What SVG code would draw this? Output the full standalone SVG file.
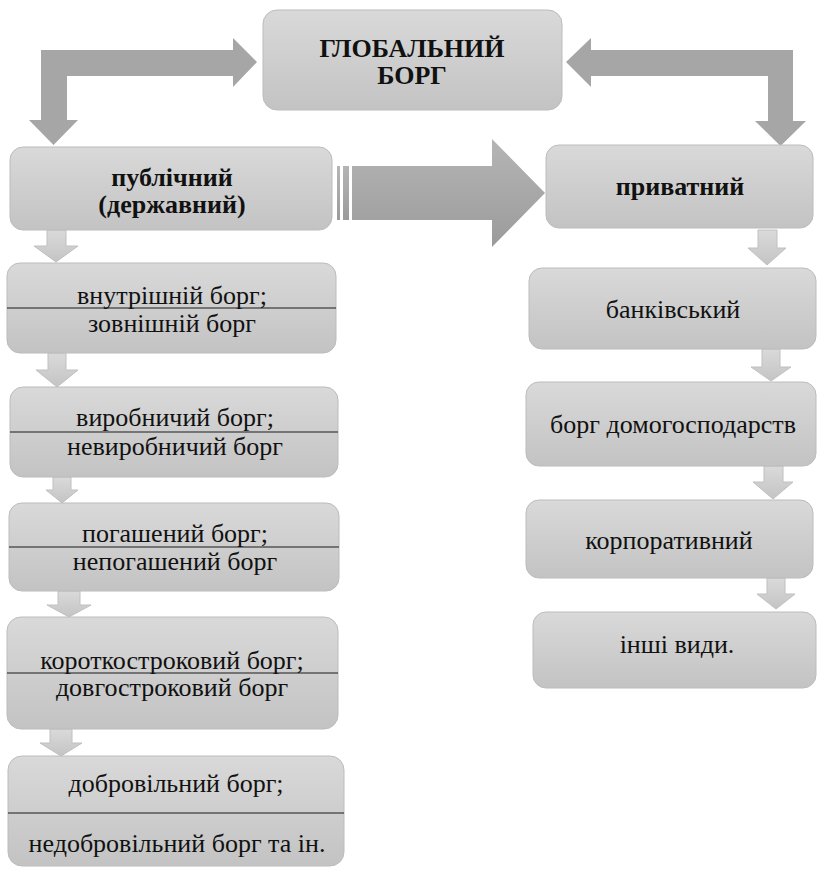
<svg xmlns="http://www.w3.org/2000/svg" width="817" height="869" viewBox="0 0 817 869">
<defs>
<linearGradient id="gBox" x1="0" y1="0" x2="0" y2="1">
<stop offset="0" stop-color="#d9d9d9"/>
<stop offset="1" stop-color="#c3c3c3"/>
</linearGradient>
<linearGradient id="gSmall" x1="0" y1="0" x2="0" y2="1">
<stop offset="0" stop-color="#dadada"/>
<stop offset="1" stop-color="#c4c4c4"/>
</linearGradient>
<linearGradient id="gBig" x1="0" y1="0" x2="0" y2="1">
<stop offset="0" stop-color="#b5b5b5"/>
<stop offset="1" stop-color="#9b9b9b"/>
</linearGradient>
<style>
.box{fill:url(#gBox);stroke:#bcbcbc;stroke-width:1}
.sep{stroke:#1a1a1a;stroke-width:1.2}
.bent{fill:#a6a6a6}
.small{fill:url(#gSmall);stroke:#c0c0c0;stroke-width:1}
.big{fill:url(#gBig)}
text{fill:#111;text-anchor:middle;font-family:'Liberation Serif','Times New Roman',serif}
.b{font-weight:bold;font-size:26px}
.r{font-size:26px}
</style>
</defs>
<g id="connectors">
<path class="bent" d="M41,50 L233,50 L233,38 L257,62 L233,87 L233,76 L67,76 L67,120 L78,120 L53.5,145 L29,120 L41,120 Z"/>
<path class="bent" d="M793,50 L591,50 L591,38 L566,62 L591,87 L591,76 L768,76 L768,121 L755,121 L780.5,146 L806,121 L793,121 Z"/>
<rect class="big" x="337" y="166" width="3" height="54"/>
<rect class="big" x="343" y="166" width="6" height="54"/>
<path class="big" d="M352,166 L492,166 L492,139 L545,193 L492,247 L492,220 L352,220 Z"/>
<path class="small" d="M47,230 L66,230 L66,246 L78,246 L56,262 L34,246 L47,246 Z"/>
<path class="small" d="M48,353 L66,353 L66,370 L78,370 L57,387 L36,370 L48,370 Z"/>
<path class="small" d="M53,477 L71,477 L71,490 L78,490 L62,503 L46,490 L53,490 Z"/>
<path class="small" d="M58,591 L80,591 L80,605 L91,605 L69,617 L47,605 L58,605 Z"/>
<path class="small" d="M50,729 L72,729 L72,743 L82,743 L61,756 L40,743 L50,743 Z"/>
<path class="small" d="M758,230 L777,230 L777,248 L786,248 L767,265 L748,248 L758,248 Z"/>
<path class="small" d="M762,349 L780,349 L780,367 L791,367 L771,381 L751,367 L762,367 Z"/>
<path class="small" d="M764,466 L783,466 L783,482 L793,482 L773,499 L753,482 L764,482 Z"/>
<path class="small" d="M767,578 L785,578 L785,594 L795,594 L776,609 L757,594 L767,594 Z"/>
</g>
<g id="global">
<rect class="box" x="263" y="10" width="299" height="100" rx="14"/>
<text class="b" x="412" y="57">ГЛОБАЛЬНИЙ</text>
<text class="b" x="412" y="84">БОРГ</text>
</g>
<g id="public">
<rect class="box" x="10" y="147" width="322" height="83" rx="13"/>
<text class="b" x="172" y="186">публічний</text>
<text class="b" x="172" y="213">(державний)</text>
</g>
<g id="private">
<rect class="box" x="546" y="145" width="267" height="83" rx="13"/>
<text class="b" x="680" y="195">приватний</text>
</g>
<g id="p1">
<rect class="box" x="7" y="263" width="329" height="90" rx="13"/>
<line class="sep" x1="7" y1="308" x2="336" y2="308"/>
<text class="r" x="172" y="304">внутрішній борг;</text>
<text class="r" x="172" y="332">зовнішній борг</text>
</g>
<g id="p2">
<rect class="box" x="10" y="387" width="328" height="90" rx="13"/>
<line class="sep" x1="10" y1="432" x2="338" y2="432"/>
<text class="r" x="175" y="426">виробничий борг;</text>
<text class="r" x="175" y="455">невиробничий борг</text>
</g>
<g id="p3">
<rect class="box" x="9" y="503" width="330" height="88" rx="13"/>
<line class="sep" x1="9" y1="547" x2="339" y2="547"/>
<text class="r" x="175" y="542">погашений борг;</text>
<text class="r" x="175" y="570">непогашений борг</text>
</g>
<g id="p4">
<rect class="box" x="7" y="617" width="331" height="112" rx="14"/>
<line class="sep" x1="7" y1="673" x2="338" y2="673"/>
<text class="r" x="172" y="669">короткостроковий борг;</text>
<text class="r" x="172" y="696">довгостроковий борг</text>
</g>
<g id="p5">
<rect class="box" x="8" y="756" width="336" height="110" rx="14"/>
<line class="sep" x1="8" y1="813" x2="344" y2="813"/>
<text class="r" x="176" y="792">добровільний борг;</text>
<text class="r" x="177" y="852">недобровільний борг та ін.</text>
</g>
<g id="r1">
<rect class="box" x="529" y="268" width="287" height="81" rx="13"/>
<text class="r" x="673" y="318">банківський</text>
</g>
<g id="r2">
<rect class="box" x="526" y="382" width="290" height="84" rx="13"/>
<text class="r" x="673" y="433">борг домогосподарств</text>
</g>
<g id="r3">
<rect class="box" x="526" y="500" width="287" height="78" rx="13"/>
<text class="r" x="669" y="549">корпоративний</text>
</g>
<g id="r4">
<rect class="box" x="533" y="612" width="283" height="76" rx="13"/>
<text class="r" x="677" y="653">інші види.</text>
</g>
</svg>
